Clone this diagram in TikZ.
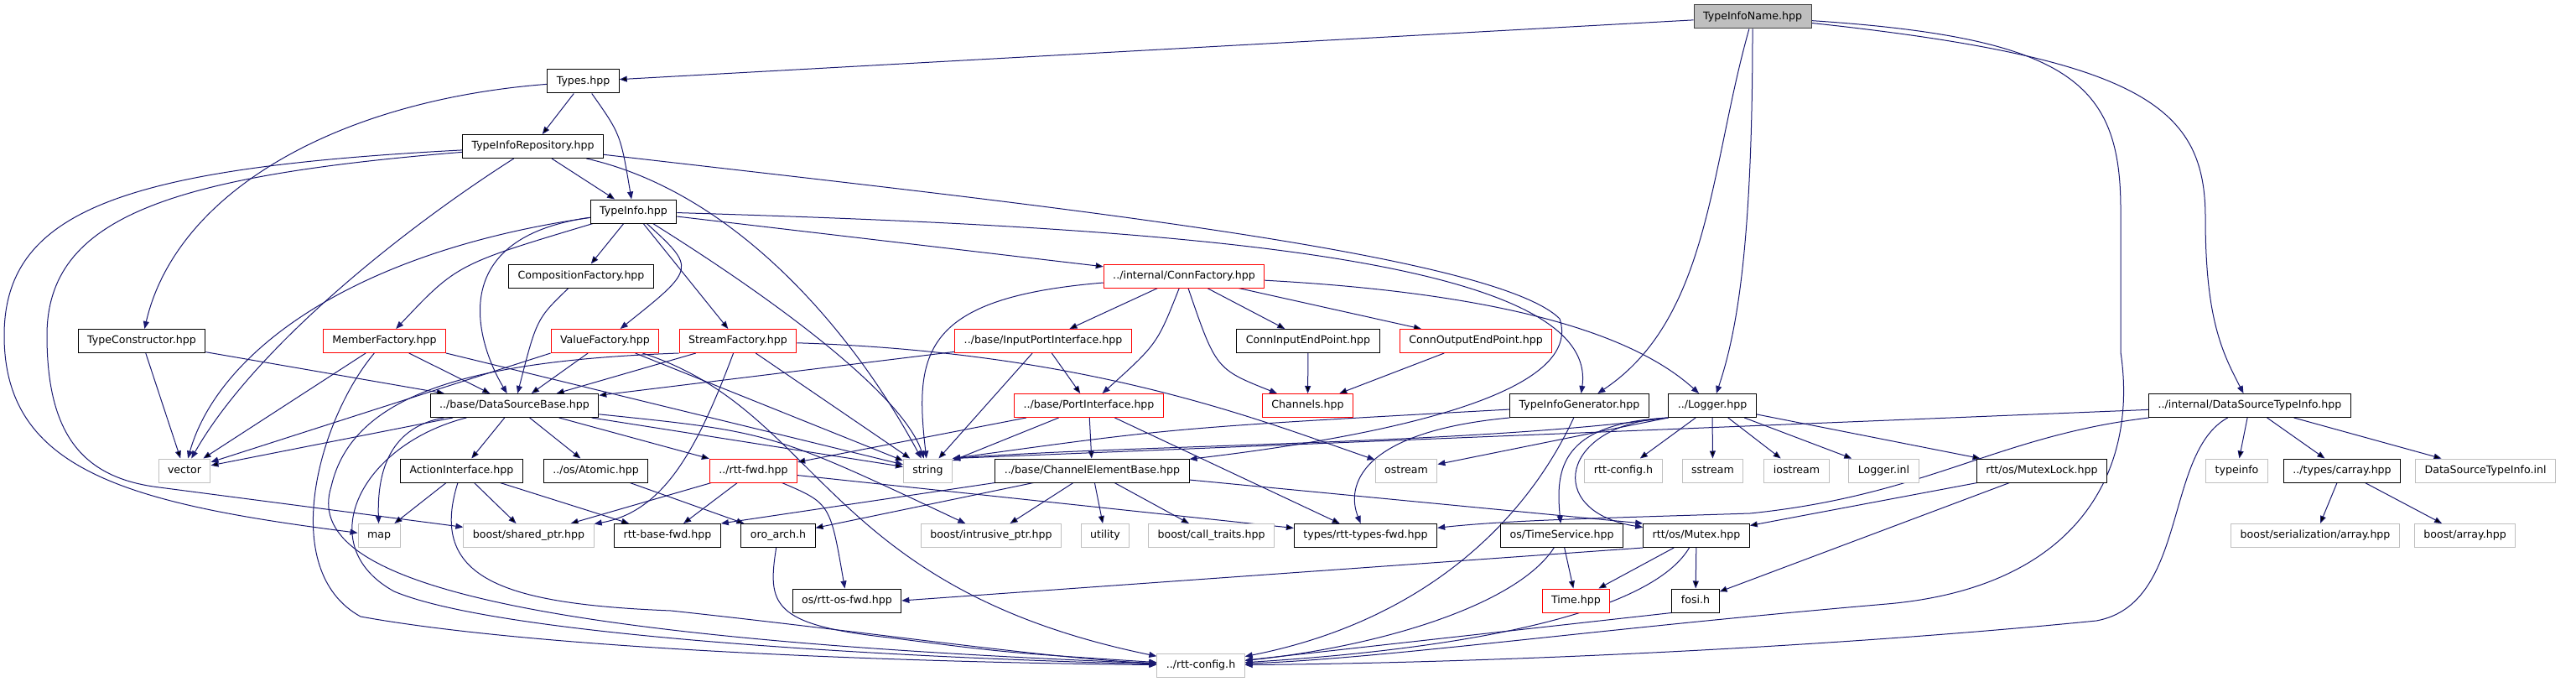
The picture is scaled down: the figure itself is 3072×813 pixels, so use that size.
\documentclass[tikz,border=0pt]{standalone}
\usepackage{fontspec}
\setmainfont{DejaVu Sans}
\usetikzlibrary{arrows.meta}

\definecolor{edgeblue}{HTML}{191970}
\definecolor{boxgray}{HTML}{BFBFBF}
\definecolor{boxedge}{HTML}{404040}

\pgfdeclarelayer{background}
\pgfsetlayers{background,main}

\tikzset{
  filebox/.style={draw=black, line width=1pt, fill=white, inner xsep=11pt,
    minimum height=28pt, text height=9.3pt, text depth=2.6pt,
    font={\fontsize{12.6}{15}\selectfont}},
  docbox/.style={filebox},
  redbox/.style={filebox, draw=red},
  extbox/.style={filebox, draw=boxgray},
  mainbox/.style={filebox, draw=boxedge, fill=boxgray},
  dep/.style={->, draw=edgeblue, line width=1pt}
}

\begin{document}
\begin{tikzpicture}[x=1pt,y=-1pt,>={Triangle[length=9pt,width=7pt]}]
\useasboundingbox (0,0) rectangle (3072,813);

\node[mainbox] (tin) at (2090,20) {TypeInfoName.hpp};
\node[docbox] (types) at (695.5,97) {Types.hpp};
\node[docbox] (tir) at (635.5,174.5) {TypeInfoRepository.hpp};
\node[docbox] (ti) at (755.5,252) {TypeInfo.hpp};
\node[docbox] (cf) at (693,329) {CompositionFactory.hpp};
\node[redbox] (cif) at (1412,329) {../internal/ConnFactory.hpp};

\node[docbox] (tc) at (169,406.5) {TypeConstructor.hpp};
\node[redbox] (mf) at (458.5,406.5) {MemberFactory.hpp};
\node[redbox] (vf) at (721.5,406.5) {ValueFactory.hpp};
\node[redbox] (sf) at (880,406.5) {StreamFactory.hpp};
\node[redbox] (ipi) at (1244,406.5) {../base/InputPortInterface.hpp};
\node[docbox] (ciep) at (1560,406.5) {ConnInputEndPoint.hpp};
\node[redbox] (coep) at (1760,406.5) {ConnOutputEndPoint.hpp};

\node[docbox] (dsb) at (613.5,483.5) {../base/DataSourceBase.hpp};
\node[redbox] (pi) at (1298.5,483.5) {../base/PortInterface.hpp};
\node[redbox] (ch) at (1559.5,483.5) {Channels.hpp};
\node[docbox] (tig) at (1883.5,483.5) {TypeInfoGenerator.hpp};
\node[docbox] (log) at (2042,483.5) {../Logger.hpp};
\node[docbox] (dsti) at (2683,483.5) {../internal/DataSourceTypeInfo.hpp};

\node[extbox] (vec) at (220,561) {vector};
\node[docbox] (ai) at (550.5,561) {ActionInterface.hpp};
\node[docbox] (atom) at (710.5,561) {../os/Atomic.hpp};
\node[redbox] (fwd) at (898.5,561) {../rtt-fwd.hpp};
\node[extbox] (str) at (1106.5,561) {string};
\node[docbox] (ceb) at (1302.5,561) {../base/ChannelElementBase.hpp};
\node[extbox] (ostr) at (1677,561) {ostream};
\node[extbox] (rcfgb) at (1936,561) {rtt-config.h};
\node[extbox] (sstr) at (2042.5,561) {sstream};
\node[extbox] (iostr) at (2142.5,561) {iostream};
\node[extbox] (linl) at (2246.5,561) {Logger.inl};
\node[docbox] (mlock) at (2435,561) {rtt/os/MutexLock.hpp};
\node[extbox] (tinfo) at (2667.5,561) {typeinfo};
\node[docbox] (carr) at (2793,561) {../types/carray.hpp};
\node[extbox] (dstinl) at (2964,561) {DataSourceTypeInfo.inl};

\node[extbox] (map) at (452,638.5) {map};
\node[extbox] (bsp) at (630.5,638.5) {boost/shared\_ptr.hpp};
\node[docbox] (rbf) at (796,638.5) {rtt-base-fwd.hpp};
\node[docbox] (oro) at (928,638.5) {oro\_arch.h};
\node[extbox] (bip) at (1182,638.5) {boost/intrusive\_ptr.hpp};
\node[extbox] (util) at (1318,638.5) {utility};
\node[extbox] (bct) at (1444.5,638.5) {boost/call\_traits.hpp};
\node[docbox] (rtf) at (1628.5,638.5) {types/rtt-types-fwd.hpp};
\node[docbox] (ts) at (1862.5,638.5) {os/TimeService.hpp};
\node[docbox] (mtx) at (2023,638.5) {rtt/os/Mutex.hpp};
\node[extbox] (bsa) at (2761,638.5) {boost/serialization/array.hpp};
\node[extbox] (ba) at (2939.5,638.5) {boost/array.hpp};

\node[docbox] (osfwd) at (1010,716) {os/rtt-os-fwd.hpp};
\node[redbox] (time) at (1879.5,716) {Time.hpp};
\node[docbox] (fosi) at (2022,716) {fosi.h};

\node[extbox] (rcfg) at (1432,793) {../rtt-config.h};

\begin{pgfonlayer}{background}
% TypeInfoName.hpp
\path[dep] (tin) edge (types);
\draw[dep] (tin) .. controls (2039,200) and (2039,380) .. (tig);
\draw[dep] (tin) .. controls (2090,300) and (2070,400) .. (log);
\draw[dep] (tin) .. controls (2560,70) and (2630,130) .. (2630,260)
  .. controls (2630,380) and (2650,420) .. (dsti);
\draw[dep] (tin) .. controls (2470,45) and (2529,100) .. (2529,250) -- (2529,420)
  .. controls (2550,560) and (2480,700) .. (2250,720)
  .. controls (1900,750) and (1650,785) .. (rcfg);

% Types.hpp, TypeInfoRepository.hpp
\path[dep] (types) edge (tir);
\draw[dep] (types) .. controls (740,160) .. (ti);
\draw[dep] (types) .. controls (400,120) and (210,230) .. (tc);

\path[dep] (tir) edge (ti);
\draw[dep] (tir) .. controls (470,280) and (300,420) .. (vec);
\draw[dep] (tir) .. controls (150,200) and (5,250) .. (5,400)
  .. controls (5,560) and (150,600) .. (map);
\draw[dep] (tir) .. controls (200,210) and (56,260) .. (56,400)
  .. controls (56,520) and (100,570) .. (190,581) -- (bsp);
\draw[dep] (tir) .. controls (880,230) and (1020,400) .. (str);
\draw[dep] (tir) .. controls (1200,240) and (1780,300) .. (1860,380)
  .. controls (1890,470) and (1650,520) .. (ceb);

% TypeInfo.hpp
\path[dep] (ti) edge (cf) edge (sf) edge (cif);
\draw[dep] (ti) .. controls (830,320) .. (vf);
\draw[dep] (ti) .. controls (545,315) .. (mf);
\draw[dep] (ti) .. controls (520,285) and (575,420) .. (dsb);
\draw[dep] (ti) .. controls (420,300) and (260,420) .. (vec);
\draw[dep] (ti) .. controls (960,380) and (1080,480) .. (str);
\draw[dep] (ti) .. controls (1350,270) and (1910,300) .. (tig);

\draw[dep] (cf) .. controls (640,380) .. (dsb);

% ConnFactory.hpp
\path[dep] (cif) edge (ipi) edge (ciep) edge (coep);
\draw[dep] (cif) .. controls (1100,355) and (1090,420) .. (str);
\draw[dep] (cif) .. controls (1380,410) .. (pi);
\draw[dep] (cif) .. controls (1450,440) .. (ch);
\draw[dep] (cif) .. controls (1800,350) and (1950,400) .. (log);

% factories
\path[dep] (tc) edge (vec) edge (dsb);
\path[dep] (mf) edge (vec) edge (dsb);
\draw[dep] (mf.south east) -- (str);
\draw[dep] (mf) .. controls (380,500) and (330,680) .. (430,735)
  .. controls (650,775) and (1100,790) .. (rcfg);
\path[dep] (vf) edge (dsb) edge (str);
\draw[dep] (vf.south west) -- (vec);
\draw[dep] (vf) .. controls (980,490) and (980,700) .. (rcfg);
\path[dep] (sf) edge (dsb) edge (str);
\draw[dep] (sf) .. controls (830,540) and (790,610) .. (bsp);
\draw[dep] (sf) .. controls (1300,420) and (1500,500) .. (ostr);
\draw[dep] (sf.south west) .. controls (560,430) and (420,470) .. (395,580)
  .. controls (360,690) and (600,760) .. (rcfg);

% ports
\path[dep] (ipi) edge (dsb) edge (str) edge (pi);
\path[dep] (pi) edge (fwd) edge (str) edge (ceb) edge (rtf);
\path[dep] (ciep) edge (ch);
\path[dep] (coep) edge (ch);

% DataSourceBase.hpp
\path[dep] (dsb) edge (vec) edge (ai) edge (atom) edge (fwd) edge (str);
\draw[dep] (dsb) .. controls (460,510) and (450,570) .. (map);
\draw[dep] (dsb) .. controls (920,515) .. (bip);
\draw[dep] (dsb) .. controls (430,530) and (370,650) .. (470,705)
  .. controls (600,760) and (1100,785) .. (rcfg);

% TypeInfoGenerator.hpp, Logger.hpp
\draw[dep] (tig) .. controls (1400,510) .. (str.north east);
\draw[dep] (tig.south west) .. controls (1620,515) and (1605,580) .. (rtf);
\draw[dep] (tig) .. controls (1820,620) and (1700,740) .. (rcfg);

\path[dep] (log) edge (rcfgb) edge (sstr) edge (iostr) edge (linl) edge (mlock);
\draw[dep] (log.south west) -- (ostr);
\draw[dep] (log.south west) .. controls (1750,530) and (1350,530) .. (str.north east);
\draw[dep] (log.south west) .. controls (1860,505) and (1855,560) .. (ts);
\draw[dep] (log.south west) .. controls (1860,505) and (1840,610) .. (mtx);

% DataSourceTypeInfo.hpp
\path[dep] (dsti) edge (tinfo) edge (carr) edge (dstinl);
\draw[dep] (dsti) -- (str.north east);
\draw[dep] (dsti) .. controls (2380,520) and (2300,590) .. (2087,612)
  .. controls (1900,618) and (1800,620) .. (rtf);
\draw[dep] (dsti) .. controls (2580,540) and (2610,720) .. (2500,740)
  .. controls (2200,770) and (1800,790) .. (rcfg);
\path[dep] (carr) edge (bsa) edge (ba);

% lower rows
\path[dep] (ai) edge (map) edge (bsp) edge (rbf);
\draw[dep] (ai) .. controls (510,690) and (600,720) .. (800,728)
  .. controls (1050,755) and (1250,785) .. (rcfg);
\path[dep] (atom) edge (oro);
\path[dep] (fwd) edge (rbf) edge (rtf) edge (bsp);
\draw[dep] (fwd) .. controls (990,600) .. (osfwd);
\path[dep] (ceb) edge (oro) edge (bip) edge (util) edge (bct);
\draw[dep] (ceb.south west) -- (rbf.north east);
\draw[dep] (ceb) -- (mtx.north west);
\draw[dep] (oro) .. controls (915,720) and (920,745) .. (1060,760)
  .. controls (1200,778) .. (rcfg);

\path[dep] (mlock) edge (mtx) edge (fosi);
\path[dep] (mtx) edge (time) edge (fosi);
\draw[dep] (mtx.south west) -- (osfwd.east);
\draw[dep] (mtx) .. controls (1975,720) and (1800,770) .. (rcfg);
\path[dep] (ts) edge (time);
\draw[dep] (ts) .. controls (1810,720) and (1650,770) .. (rcfg);
\draw[dep] (fosi.south west) -- (rcfg);
\end{pgfonlayer}
\end{tikzpicture}
\end{document}
